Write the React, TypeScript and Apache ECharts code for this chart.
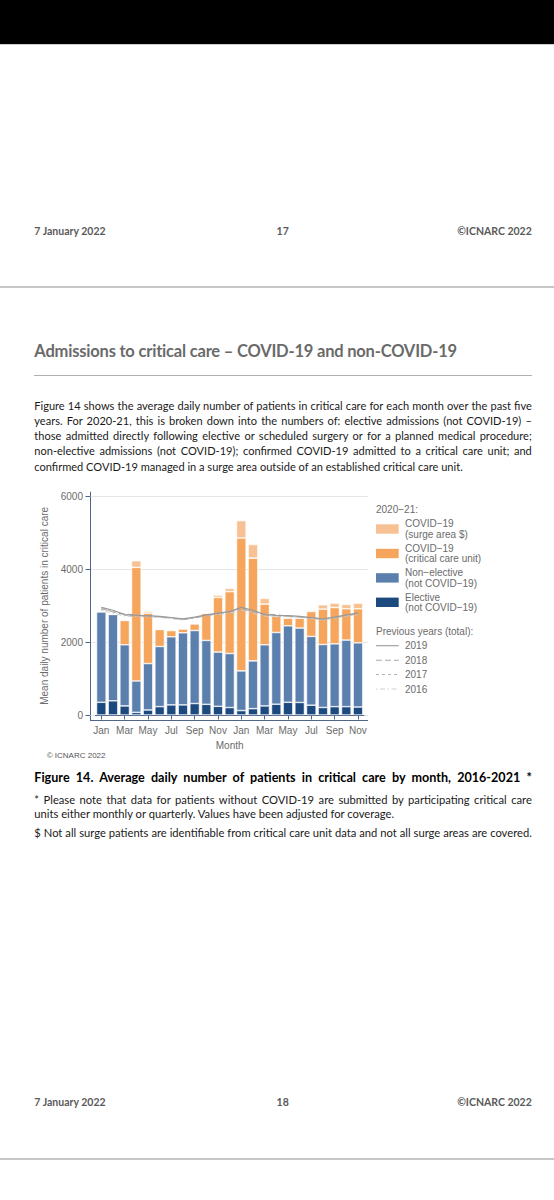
import React, { useEffect, useRef } from "react";
import * as echarts from "echarts";

// ---------------- data ----------------
const monthNames = ["Jan", "Feb", "Mar", "Apr", "May", "Jun", "Jul", "Aug", "Sep", "Oct", "Nov", "Dec"];

const categories = [
  "Jan 2020", "Feb 2020", "Mar 2020", "Apr 2020", "May 2020", "Jun 2020",
  "Jul 2020", "Aug 2020", "Sep 2020", "Oct 2020", "Nov 2020", "Dec 2020",
  "Jan 2021", "Feb 2021", "Mar 2021", "Apr 2021", "May 2021", "Jun 2021",
  "Jul 2021", "Aug 2021", "Sep 2021", "Oct 2021", "Nov 2021",
];

const elective = [350, 390, 250, 73, 138, 230, 278, 278, 315, 294, 239, 205, 122, 174, 250, 297, 350, 345, 270, 207, 229, 229, 220];
const nonElective = [2488, 2374, 1680, 863, 1276, 1653, 1872, 1982, 2008, 1756, 1491, 1485, 1090, 1314, 1680, 1971, 2102, 2045, 1890, 1731, 1727, 1831, 1764];
const covidCriticalCare = [0, 0, 668, 3122, 1386, 467, 172, 108, 183, 748, 1502, 1700, 3653, 2824, 1118, 450, 210, 272, 685, 972, 999, 860, 936];
const covidSurge = [0, 0, 0, 182, 45, 0, 0, 0, 0, 0, 63, 90, 477, 374, 157, 17, 18, 0, 27, 120, 120, 120, 155];

// previous years (total), by calendar month Jan..Dec
const prev2019 = [2960, 2880, 2760, 2740, 2730, 2710, 2680, 2640, 2690, 2750, 2800, 2840];
const prev2018 = [2930, 2830, 2775, 2755, 2720, 2700, 2670, 2630, 2680, 2740, 2790, 2850];
const prev2017 = [2900, 2860, 2740, 2720, 2710, 2690, 2660, 2620, 2670, 2730, 2780, 2820];
const prev2016 = [2880, 2800, 2720, 2700, 2700, 2680, 2650, 2610, 2660, 2720, 2760, 2800];

const yTicks = { min: 0, max: 6000, interval: 2000 };

// ---------------- styles ----------------
const AXIS_COLOR = "#50658a";
const LABEL_COLOR = "#6b6b6b";
const GRID_COLOR = "#e6e6e6";
const C_SURGE = "#f7c193";
const C_CCU = "#f5a55c";
const C_NONEL = "#5c80ad";
const C_EL = "#1d4a7e";
const FONT = "'Liberation Sans', Arial, sans-serif";

function Chart() {
  const ref = useRef<HTMLDivElement>(null);
  useEffect(() => {
    const chart = echarts.init(ref.current!, undefined, { renderer: "svg" });
    const lineFor = (vals: number[]) => categories.map((c) => vals[monthNames.indexOf(c.slice(0, 3))]);

    const bars: [string, number[], string][] = [
      ["Elective (not COVID-19)", elective, C_EL],
      ["Non-elective (not COVID-19)", nonElective, C_NONEL],
      ["COVID-19 (critical care unit)", covidCriticalCare, C_CCU],
      ["COVID-19 (surge area $)", covidSurge, C_SURGE],
    ];
    const prevLines: [string, number[], string, any, number][] = [
      ["2016", prev2016, "#cfcfcf", [1.5, 2.5, 5, 2.5], 1],
      ["2017", prev2017, "#b4b4b4", [3, 3], 1],
      ["2018", prev2018, "#a8a8a8", [6, 3], 1],
      ["2019", prev2019, "#9a9a9a", "solid", 1.2],
    ];

    const txt = (text: string, x: number, y: number, size = 10, fill = LABEL_COLOR) => ({
      type: "text",
      x,
      y,
      silent: true,
      style: {
        text,
        fill,
        font: `${size}px ${FONT}`,
        align: "left",
        verticalAlign: "middle",
        textAlign: "left",
        textVerticalAlign: "middle",
      },
    });

    const legendBars = [
      { color: C_SURGE, lines: ["COVID\u221219", "(surge area $)"], top: 44.3 },
      { color: C_CCU, lines: ["COVID\u221219", "(critical care unit)"], top: 68.8 },
      { color: C_NONEL, lines: ["Non\u2212elective", "(not COVID\u221219)"], top: 93.2 },
      { color: C_EL, lines: ["Elective", "(not COVID\u221219)"], top: 117.6 },
    ];
    const legendLines = [
      { name: "2019", y: 165.7, color: "#9a9a9a", dash: "solid" },
      { name: "2018", y: 180.3, color: "#a8a8a8", dash: [6, 3] },
      { name: "2017", y: 194.5, color: "#b4b4b4", dash: [3, 3] },
      { name: "2016", y: 209, color: "#cfcfcf", dash: [1.5, 2.5, 5, 2.5] },
    ];

    const graphic: any[] = [
      { type: "line", silent: true, shape: { x1: 90.5, y1: 11.7, x2: 90.5, y2: 240.5 }, style: { stroke: AXIS_COLOR, lineWidth: 1 } },
      { type: "line", silent: true, shape: { x1: 90, y1: 240.5, x2: 368, y2: 240.5 }, style: { stroke: AXIS_COLOR, lineWidth: 1 } },
      txt("2020\u221221:", 376, 29),
      txt("Previous years (total):", 376, 151.7),
      txt("\u00a9 ICNARC 2022", 46.7, 275.7, 8, "#555"),
    ];
    legendBars.forEach((b) => {
      graphic.push({ type: "rect", silent: true, shape: { x: 376, y: b.top, width: 22.7, height: 9.4 }, style: { fill: b.color } });
      graphic.push(txt(b.lines[0], 405, b.top + 4.7 - 5.1));
      graphic.push(txt(b.lines[1], 405, b.top + 4.7 + 5.3));
    });
    legendLines.forEach((l) => {
      graphic.push({ type: "line", silent: true, shape: { x1: 376, y1: l.y, x2: 398.7, y2: l.y }, style: { stroke: l.color, lineWidth: 1.1, lineDash: l.dash === "solid" ? null : l.dash } });
      graphic.push(txt(l.name, 405, l.y));
    });

    chart.setOption({
      animation: false,
      textStyle: { fontFamily: FONT },
      grid: [
        { left: 90, right: 186, top: 16.7, bottom: 55 },
        { left: 95.5, right: 190.2, top: 16.7, bottom: 55 },
      ],
      xAxis: [
        { gridIndex: 0, type: "value", min: 0, max: 1, show: false },
        {
          gridIndex: 1,
          type: "category",
          data: categories,
          offset: 5,
          axisLine: { show: true, lineStyle: { color: AXIS_COLOR, width: 1 } },
          axisTick: { show: true, interval: 1, length: 4.5, alignWithLabel: true, lineStyle: { color: AXIS_COLOR } },
          axisLabel: { interval: 1, formatter: (v: string) => v.slice(0, 3), color: LABEL_COLOR, fontSize: 10, margin: 5.5, fontFamily: FONT },
          name: "Month",
          nameLocation: "middle",
          nameGap: 16,
          nameTextStyle: { color: LABEL_COLOR, fontSize: 10, fontFamily: FONT },
        },
      ],
      yAxis: [
        {
          gridIndex: 0,
          type: "value",
          min: yTicks.min,
          max: yTicks.max,
          interval: yTicks.interval,
          axisLine: { show: true, lineStyle: { color: AXIS_COLOR, width: 1 } },
          axisTick: { show: true, length: 4.5, lineStyle: { color: AXIS_COLOR } },
          axisLabel: { color: LABEL_COLOR, fontSize: 10, margin: 7, fontFamily: FONT, formatter: (v: number) => String(v) },
          splitLine: { show: true, lineStyle: { color: GRID_COLOR, width: 1 } },
          name: "Mean daily number of patients in critical care",
          nameLocation: "middle",
          nameGap: 28,
          nameTextStyle: { color: LABEL_COLOR, fontSize: 10, fontFamily: FONT },
        },
        { gridIndex: 1, type: "value", min: yTicks.min, max: yTicks.max, show: false },
      ],
      series: [
        ...bars.map(([name, data, color]) => ({
          type: "bar",
          name,
          data,
          xAxisIndex: 1,
          yAxisIndex: 1,
          stack: "total",
          barWidth: 9.6,
          itemStyle: { color, borderColor: "#ffffff", borderWidth: 0.6 },
          emphasis: { disabled: true },
        })),
        ...prevLines.map(([name, vals, color, dash, width]) => ({
          type: "line",
          name,
          data: lineFor(vals),
          xAxisIndex: 1,
          yAxisIndex: 1,
          symbol: "none",
          z: 5,
          lineStyle: { color, width, type: dash },
          emphasis: { disabled: true },
        })),
      ],
      graphic,
    });
    return () => chart.dispose();
  }, []);
  return <div ref={ref} style={{ width: 554, height: 290 }} />;
}

type TxtProps = {
  left?: number;
  cx?: number;
  right?: number;
  cy: number;
  size: number;
  bold?: boolean;
  color: string;
  width?: number;
  justify?: boolean;
  spacing?: number;
  children: React.ReactNode;
};

function Txt({ left, cx, right, cy, size, bold, color, width, justify, spacing, children }: TxtProps) {
  const lh = Math.round(size * 1.4);
  const style: React.CSSProperties = {
    position: "absolute",
    top: cy - lh / 2,
    fontSize: size,
    lineHeight: lh + "px",
    fontWeight: bold ? 700 : 400,
    color,
    letterSpacing: spacing,
    whiteSpace: "nowrap",
  };
  if (justify) {
    style.left = left;
    style.width = width;
    style.textAlign = "justify";
    (style as any).textAlignLast = "justify";
  } else if (cx !== undefined) {
    style.left = cx;
    style.transform = "translateX(-50%)";
  } else if (right !== undefined) {
    style.right = 554 - right;
  } else {
    style.left = left;
  }
  return <div style={style}>{children}</div>;
}

const paragraph = [
  "Figure 14 shows the average daily number of patients in critical care for each month over the past five",
  "years.  For 2020-21, this is broken down into the numbers of: elective admissions (not COVID-19) \u2013",
  "those admitted directly following elective or scheduled surgery or for a planned medical procedure;",
  "non-elective admissions (not COVID-19); confirmed COVID-19 admitted to a critical care unit; and",
  "confirmed COVID-19 managed in a surge area outside of an established critical care unit.",
];

function Footer({ cy, page }: { cy: number; page: string }) {
  return (
    <>
      <Txt left={34.3} cy={cy} size={10.5} bold color="#5a5a5a">7 January 2022</Txt>
      <Txt cx={282.7} cy={cy} size={10.5} bold color="#5a5a5a">{page}</Txt>
      <Txt right={531.8} cy={cy} size={10.5} bold color="#5a5a5a">{"\u00a9ICNARC 2022"}</Txt>
    </>
  );
}

export default function App() {
  useEffect(() => {
    document.body.style.margin = "0";
    document.body.style.overflow = "hidden";
  }, []);
  const L = 34.3;
  const W = 497.5;
  return (
    <div
      style={{
        position: "absolute",
        left: 0,
        top: 0,
        width: 554,
        height: 1200,
        background: "#fff",
        overflow: "hidden",
        fontFamily: "Lato, 'Liberation Sans', sans-serif",
      }}
    >
      <div style={{ position: "absolute", left: 0, top: 0, width: 554, height: 43.5, background: "#000" }} />
      <div style={{ position: "absolute", left: 0, top: 43.5, width: 554, height: 1.5, background: "#cfcfcf" }} />
      <Footer cy={231} page="17" />
      <div style={{ position: "absolute", left: 0, top: 286, width: 554, height: 2, background: "#c6c6c6" }} />

      <Txt left={L} cy={351.5} size={16.5} bold color="#6a6a6a" spacing={-0.2}>
        Admissions to critical care – COVID-19 and non-COVID-19
      </Txt>
      <div style={{ position: "absolute", left: L, top: 375, width: W, height: 1, background: "#b0b0b0" }} />

      {paragraph.map((t, i) =>
        i < paragraph.length - 1 ? (
          <Txt key={i} left={L} width={W} justify cy={405 + i * 15.3} size={11.05} color="#1a1a1a">
            {t}
          </Txt>
        ) : (
          <Txt key={i} left={L} cy={405 + i * 15.3} size={11.05} color="#1a1a1a">
            {t}
          </Txt>
        )
      )}

      <div style={{ position: "absolute", left: 0, top: 480, width: 554, height: 290 }}>
        <Chart />
      </div>

      <Txt left={L} width={W} justify cy={777.5} size={12.6} bold color="#000">
        Figure 14.  Average daily number of patients in critical care by month, 2016-2021 *
      </Txt>
      <Txt left={L} width={W} justify cy={799.5} size={11.2} color="#1a1a1a">
        * Please note that data for patients without COVID-19 are submitted by participating critical care
      </Txt>
      <Txt left={L} cy={814} size={11.2} color="#1a1a1a">
        units either monthly or quarterly. Values have been adjusted for coverage.
      </Txt>
      <Txt left={L} width={W} justify cy={832.5} size={11.2} color="#1a1a1a">
        $ Not all surge patients are identifiable from critical care unit data and not all surge areas are covered.
      </Txt>

      <Footer cy={1102.5} page="18" />
      <div style={{ position: "absolute", left: 0, top: 1158.4, width: 554, height: 2, background: "#c6c6c6" }} />
    </div>
  );
}
